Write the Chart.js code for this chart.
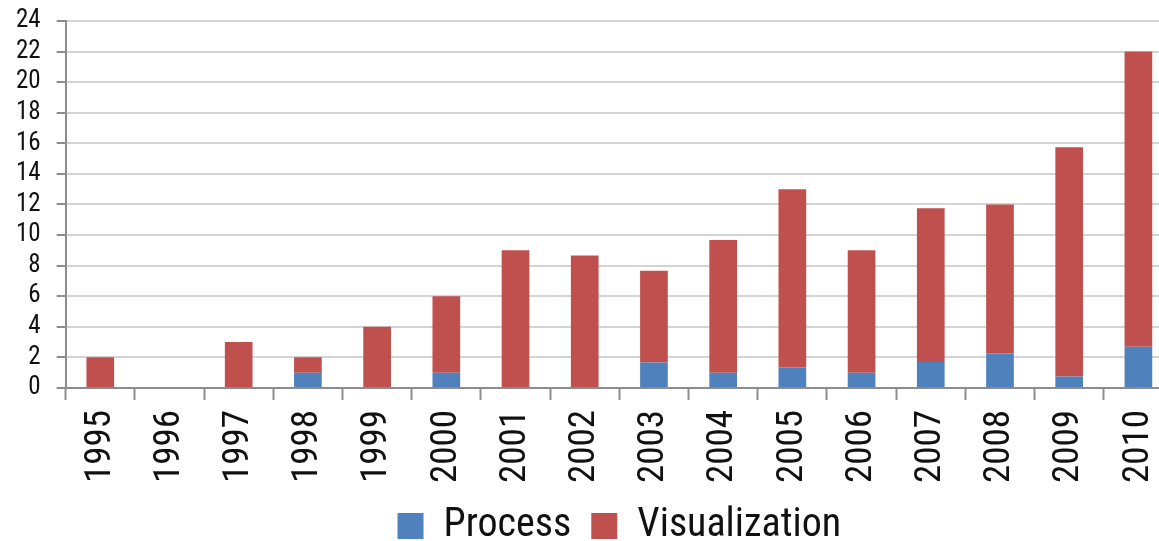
<!DOCTYPE html>
<html>
<head>
<meta charset="utf-8">
<script src="https://cdn.jsdelivr.net/npm/chart.js@4.4.0/dist/chart.umd.min.js"></script>
<style>
  html, body { margin: 0; padding: 0; background: #fff; overflow: hidden; }
  #wrap { position: relative; width: 1180px; height: 541px; }
</style>
</head>
<body>
<div id="wrap"><canvas id="chart"></canvas></div>
<script>
'use strict';

// papers per year, split by topic
var years = ['1995', '1996', '1997', '1998', '1999', '2000', '2001', '2002',
             '2003', '2004', '2005', '2006', '2007', '2008', '2009', '2010'];
var process = [0, 0, 0, 1, 0, 1, 0, 0, 1.67, 1, 1.33, 1, 1.7, 2.25, 0.75, 2.7];
var visualization = [2, 0, 3, 1, 4, 5, 9, 8.67, 6, 8.67, 11.67, 8, 10.05, 9.75, 15, 19.3];
var yMax = 24;
var yStep = 2;

var FONT = '"Roboto Condensed", "Liberation Sans Narrow", "DejaVu Sans Condensed", sans-serif';
var AXIS_GREY = '#8c8c8c';

Chart.defaults.font.family = FONT;
Chart.defaults.color = '#111';

var chart = new Chart(document.getElementById('chart'), {
    type: 'bar',
    data: {
        labels: years,
        datasets: [
            {label: 'Process', data: process, backgroundColor: '#4F81BD'},
            {label: 'Visualization', data: visualization, backgroundColor: '#C0504D'}
        ]
    },
    options: {
        responsive: true,
        maintainAspectRatio: false,
        animation: false,
        layout: {padding: {top: 0, right: 7, left: 0, bottom: -15}},
        datasets: {
            bar: {categoryPercentage: 1, barPercentage: 0.4}
        },
        plugins: {
            tooltip: {enabled: false},
            legend: {
                position: 'bottom',
                fullSize: false,
                labels: {
                    boxWidth: 26,
                    boxHeight: 26,
                    padding: 20,
                    font: {size: 40}
                }
            }
        },
        scales: {
            x: {
                stacked: true,
                // bars run right up to the edge, labels keep their slot
                afterFit: function(scale) {
                    scale.paddingRight = 0;
                    scale.height -= 7;
                },
                border: {color: AXIS_GREY, width: 2},
                grid: {
                    offset: true,
                    drawOnChartArea: false,
                    drawTicks: true,
                    tickLength: 12,
                    tickColor: AXIS_GREY,
                    tickWidth: 2
                },
                ticks: {
                    minRotation: 90,
                    maxRotation: 90,
                    padding: 10,
                    font: {size: 37}
                }
            },
            y: {
                stacked: true,
                min: 0,
                max: yMax,
                afterFit: function(scale) {
                    scale.paddingTop = 21;
                },
                border: {color: AXIS_GREY, width: 2},
                grid: {
                    color: '#d4d4d4',
                    lineWidth: 2,
                    tickLength: 9,
                    tickColor: AXIS_GREY,
                    tickWidth: 2
                },
                ticks: {
                    stepSize: yStep,
                    autoSkip: false,
                    padding: 16,
                    font: {size: 25}
                }
            }
        }
    }
});
</script>
</body>
</html>
